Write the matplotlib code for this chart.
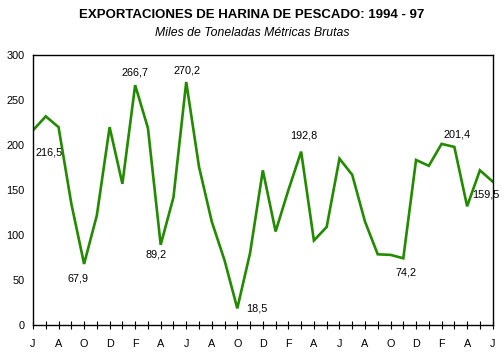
import matplotlib.pyplot as plt

plt.rcParams['font.family'] = ['Liberation Sans', 'DejaVu Sans']

# Monthly exports, Jun 1994 - Jun 1997 (thousand gross metric tons)
months = ["J", "J", "A", "S", "O", "N", "D", "E", "F", "M", "A", "M"] * 3 + ["J"]
values = [216.5, 232, 220, 135, 67.9, 122, 220, 157, 266.7, 219, 89.2, 142,
          270.2, 176, 115, 72, 18.5, 80, 172, 104, 150, 192.8, 94, 109,
          185, 167, 115, 78.6, 78, 74.2, 183.5, 177, 201.4, 198, 132, 172,
          159.5]

# labelled points: index -> pixel offset of the text
labels = {0: (16, -22), 4: (-6, -15), 8: (0, 13), 10: (-5, -10),
          12: (1, 11), 16: (20, 0), 21: (3, 16), 29: (3, -14),
          32: (15, 9), 36: (-7, -13)}

fig = plt.figure(figsize=(5.04, 3.56), dpi=100)
ax = fig.add_axes([0.0655, 0.087, 0.912, 0.758])

x = list(range(len(values)))
ax.plot(x, values, color="#228B00", linewidth=1.9, solid_joinstyle="miter")

for i, (dx, dy) in labels.items():
    ax.annotate(f"{values[i]:.1f}".replace(".", ","), (i, values[i]),
                textcoords="offset pixels", xytext=(dx, dy),
                ha="center", va="center", fontsize=7.8)

ax.set_xlim(0, len(values) - 1)
ax.set_ylim(0, 300)
ax.set_yticks(range(0, 301, 50))
ax.set_xticks(x)
ax.set_xticklabels([m if i % 2 == 0 else "" for i, m in enumerate(months)])
ax.tick_params(axis="x", direction="inout", length=6, width=0.8,
               labelsize=7.8, pad=7)
ax.tick_params(axis="y", direction="out", length=0, labelsize=7.8, pad=6)
for s in ax.spines.values():
    s.set_linewidth(1.0)
    s.set_color("black")

fig.text(0.5, 0.957, "EXPORTACIONES DE HARINA DE PESCADO: 1994 - 97",
         ha="center", va="center", fontsize=9.5, fontweight="bold")
fig.text(0.5, 0.908, "Miles de Toneladas Métricas Brutas",
         ha="center", va="center", fontsize=8.8, style="italic")

fig.savefig("out.png", dpi=100)
